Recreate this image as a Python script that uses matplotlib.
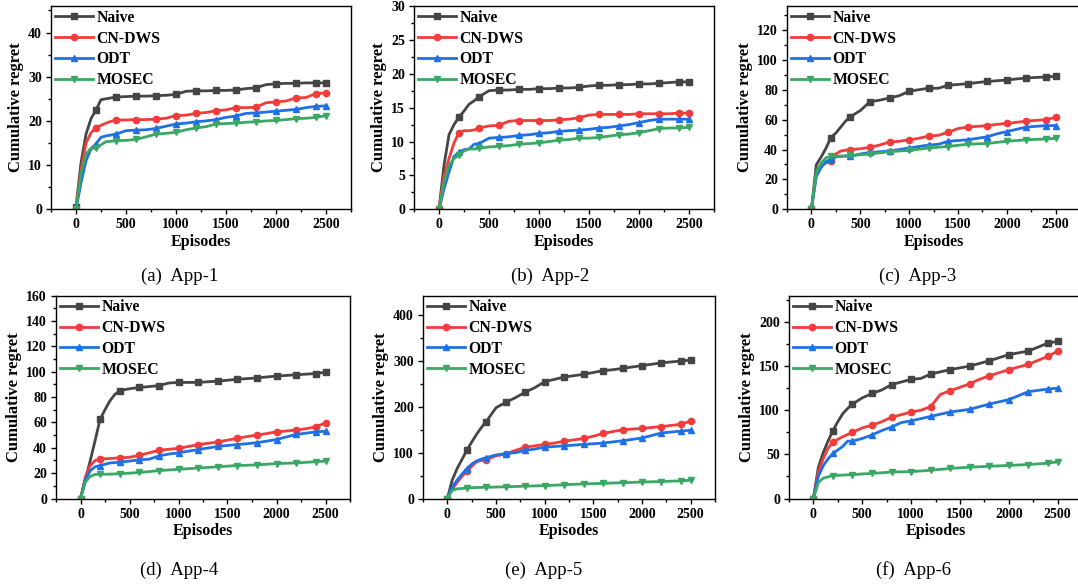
import matplotlib
matplotlib.use("Agg")
import matplotlib.pyplot as plt
from matplotlib.ticker import MultipleLocator, AutoMinorLocator

plt.rcParams["font.family"] = ["Liberation Serif", "DejaVu Serif"]
plt.rcParams["font.weight"] = "bold"

# episodes (x grid shared by every curve)
episodes = [0, 50, 100, 150, 200, 250, 300, 350, 400, 500, 600, 700, 800, 900, 1000,
            1100, 1200, 1300, 1400, 1500, 1600, 1700, 1800, 1900, 2000, 2100, 2200,
            2300, 2400, 2500]
marker_eps = [0, 200, 400, 600, 800, 1000, 1200, 1400, 1600, 1800, 2000, 2200, 2400, 2500]

methods = ["Naive", "CN-DWS", "ODT", "MOSEC"]
colors = ["#454545", "#f23b3b", "#1f6fe6", "#3aa864"]
markers = ["s", "o", "^", "v"]

# App-1
app1_naive = [0.5, 10.5, 17, 20.5, 22.5, 24.8, 25, 25.2, 25.4, 25.5, 25.6, 25.6, 25.7, 25.8, 26,
              26.7, 26.8, 26.8, 26.9, 26.9, 27, 27.3, 27.5, 28.2, 28.4, 28.5, 28.5, 28.6, 28.6, 28.6]
app1_cndws = [0, 9, 15, 17.3, 18.5, 19, 19.5, 19.9, 20.2, 20.2, 20.3, 20.3, 20.4, 20.6, 21.2,
              21.3, 21.7, 21.9, 22.3, 22.5, 23, 23, 23.1, 24.1, 24.3, 24.5, 25.2, 25.3, 26.2, 26.3]
app1_odt = [0, 6, 11, 13.7, 14.8, 16.3, 16.6, 16.8, 17, 17.8, 17.9, 18, 18.3, 18.8, 19.3,
            19.5, 19.8, 20, 20.3, 20.8, 21.1, 21.7, 21.8, 22, 22.2, 22.4, 22.6, 23, 23.3, 23.4]
app1_mosec = [0, 8, 12.5, 13.8, 13.8, 14.6, 15.3, 15.4, 15.5, 15.6, 15.8, 16.4, 17, 17.2, 17.4,
              18, 18.4, 18.7, 19.3, 19.4, 19.5, 19.7, 19.8, 20, 20.1, 20.3, 20.5, 20.6, 20.8, 21.2]

# App-2
app2_naive = [0, 6.5, 11, 12.5, 13.6, 14.5, 15.5, 16, 16.6, 17.5, 17.6, 17.6, 17.7, 17.7, 17.8,
              17.8, 17.9, 17.9, 18, 18.2, 18.3, 18.3, 18.4, 18.4, 18.5, 18.5, 18.6, 18.7, 18.8, 18.8]
app2_cndws = [0, 5, 7.5, 9.8, 11.3, 11.6, 11.6, 11.7, 12, 12.3, 12.4, 13, 13.1, 13.1, 13.1,
              13.1, 13.2, 13.3, 13.5, 13.9, 14, 14, 14, 14, 14.1, 14.1, 14.1, 14.1, 14.2, 14.2]
app2_odt = [0, 3, 5.5, 7.8, 8.4, 8.8, 8.9, 9.6, 9.7, 10.5, 10.6, 10.7, 10.9, 11, 11.2,
            11.3, 11.5, 11.6, 11.7, 11.8, 12, 12.1, 12.3, 12.5, 12.8, 13.1, 13.3, 13.3, 13.3, 13.3]
app2_mosec = [0, 4, 6.5, 7.5, 8, 8.6, 8.9, 8.9, 9, 9.2, 9.3, 9.4, 9.6, 9.7, 9.8,
              10, 10.2, 10.3, 10.5, 10.5, 10.6, 10.8, 11, 11.1, 11.3, 11.6, 11.9, 12, 12, 12.1]

# App-3
app3_naive = [0, 29.8, 35, 41, 48, 51, 55, 59, 62, 66, 72, 73, 74.5, 76, 79,
              80, 81, 81, 83, 83.5, 84, 84.8, 85.5, 86, 86.5, 87.2, 87.8, 88.2, 88.5, 89]
app3_cndws = [0, 24, 29, 31, 32, 37, 39, 39.5, 40, 40.5, 41.5, 43, 45, 45.5, 46.5,
              47.5, 49, 49.5, 51.5, 54, 55, 55.5, 56, 56.8, 57.5, 58.2, 59, 59.5, 60, 61.5]
app3_odt = [0, 22, 28, 32, 33.5, 35, 35.5, 35.5, 35.5, 37, 38, 38.5, 39, 40, 41,
            42, 43, 43.5, 45.5, 46, 46.5, 47.5, 48.5, 50.5, 52, 53.5, 55, 55.5, 56, 56]
app3_mosec = [0, 25, 31, 34.5, 35.5, 35.5, 35.5, 35.8, 36, 36.5, 37, 37.8, 38.5, 39, 39.5,
              40.2, 41, 41.5, 42, 42.8, 43.5, 43.8, 44, 44.8, 45.5, 46, 46.5, 46.8, 47, 47.5]

# App-4
app4_naive = [0, 15, 30, 46, 62.5, 70, 77, 82, 85, 86.5, 87.5, 88.2, 89, 91, 91.5,
              91.5, 91.5, 92, 92.5, 93.2, 94, 94.5, 95, 95.8, 96.5, 97, 97.5, 98, 98.5, 99.5]
app4_cndws = [0, 17, 26, 30, 31, 31.3, 31.5, 31.8, 32, 32.5, 34, 36, 38, 38.8, 39.5,
              41, 42.5, 43.5, 44.5, 46, 47.5, 48.8, 50, 51.2, 52.5, 53.2, 54, 55, 56.5, 59.5]
app4_odt = [0, 15, 22, 25, 26, 27, 28, 28.3, 28.5, 29.5, 30.5, 31, 33.5, 35, 36,
            37.3, 38.5, 39.8, 41, 41.8, 42.5, 43.2, 44, 45.2, 46.5, 48.5, 50.5, 51.5, 52.5, 53]
app4_mosec = [0, 13, 17.5, 19, 19, 19.1, 19.2, 19.4, 19.5, 20, 20.5, 21.2, 22, 22.5, 23,
              23.5, 24, 24.5, 25, 25.5, 26, 26.2, 26.5, 27, 27.5, 27.8, 28, 28.5, 29, 29.5]

# App-5
app5_naive = [0, 40, 65, 85, 105, 123, 140, 155, 168, 198, 210, 220, 232, 242, 255,
              260, 265, 268, 271, 275, 279, 281, 284, 287, 290, 293, 296, 298, 300, 302]
app5_cndws = [0, 20, 35, 48, 60, 70, 80, 83, 85, 93, 97, 105, 112, 115, 118,
              121, 125, 128, 131, 136, 142, 146, 150, 151.5, 153, 155, 157, 159.5, 162, 169]
app5_odt = [0, 25, 40, 53, 65, 75, 82, 86, 89, 95, 98, 100, 105, 108, 112,
            113.5, 115, 116.5, 118, 119.5, 121, 123.5, 126, 129, 132, 137.5, 143, 145, 147, 149]
app5_mosec = [0, 18, 21, 22, 23, 23.5, 24, 24.2, 24.5, 25, 25.5, 26.2, 27, 27.5, 28,
              29, 30, 31, 32, 32.5, 33, 33.8, 34.5, 35.2, 36, 36.5, 37, 37.8, 38.5, 40]

# App-6
app6_naive = [0, 35, 52, 65, 77, 87, 96, 102, 107, 114, 119, 123, 129, 132, 135,
              136, 141, 143.5, 146, 148, 150, 153, 156, 159.5, 163, 165, 167, 171.5, 176, 178]
app6_cndws = [0, 30, 45, 57, 64, 67, 70, 72.5, 75, 80, 83, 87, 92, 95, 98,
              100, 104, 118, 122, 126, 130, 135, 139, 142.5, 146, 149, 152, 156.5, 161, 167]
app6_odt = [0, 25, 37, 45, 51, 55, 59, 65, 65, 68, 72, 77, 81, 86, 88,
            90.5, 93, 95.5, 98, 99.5, 101, 104, 107, 109.5, 112, 116.5, 121, 122.5, 124, 125]
app6_mosec = [0, 18, 23, 24.5, 26, 26.3, 26.5, 26.8, 27, 27.8, 28.5, 29.2, 30, 30.2, 30.5,
              31.2, 32, 33, 34, 34.8, 35.5, 36, 36.5, 37, 37.5, 38, 38.5, 39.2, 40, 41.5]

captions = ["(a)  App-1", "(b)  App-2", "(c)  App-3", "(d)  App-4", "(e)  App-5", "(f)  App-6"]
all_data = [
    [app1_naive, app1_cndws, app1_odt, app1_mosec],
    [app2_naive, app2_cndws, app2_odt, app2_mosec],
    [app3_naive, app3_cndws, app3_odt, app3_mosec],
    [app4_naive, app4_cndws, app4_odt, app4_mosec],
    [app5_naive, app5_cndws, app5_odt, app5_mosec],
    [app6_naive, app6_cndws, app6_odt, app6_mosec],
]
y_tops = [46, 30, 136, 160, 443, 230]
y_steps = [10, 5, 20, 20, 100, 50]

W, H = 1078, 584
# axes boxes in pixels: left, right, top, bottom
boxes = [
    (51, 351, 6, 209.3), (414, 714, 6, 209.3), (787, 1080, 6, 209.3),
    (56, 350, 295.5, 498.5), (423, 715, 295.5, 498.5), (789, 1082, 295.5, 498.5),
]
# caption centre x and baseline y (pixels)
cap_pos = [(180, 281), (550, 281), (918, 281), (179, 575), (544, 575), (913, 575)]

mark_idx = [episodes.index(e) for e in marker_eps]

fig = plt.figure(figsize=(W / 100, H / 100), dpi=100)

for k in range(6):
    l, r, t, b = boxes[k]
    ax = fig.add_axes([l / W, 1 - b / H, (r - l) / W, (b - t) / H])
    for series, name, c, m in zip(all_data[k], methods, colors, markers):
        ax.plot(episodes, series, color=c, lw=2.0, marker=m, ms=4.5,
                markevery=mark_idx, label=name)
    ax.set_xlim(-250, 2750)
    ax.set_ylim(0, y_tops[k])
    ax.xaxis.set_major_locator(MultipleLocator(500))
    ax.xaxis.set_minor_locator(AutoMinorLocator(2))
    ax.yaxis.set_major_locator(MultipleLocator(y_steps[k]))
    ax.yaxis.set_minor_locator(AutoMinorLocator(2))
    ax.tick_params(which="major", direction="out", length=3.5, width=1, labelsize=10, pad=3)
    ax.tick_params(which="minor", direction="out", length=2, width=1)
    for lab in ax.get_xticklabels() + ax.get_yticklabels():
        lab.set_fontweight("bold")
    for sp in ax.spines.values():
        sp.set_linewidth(1)
    ax.set_xlabel("Episodes", fontsize=11.5, fontweight="bold", labelpad=2)
    ax.set_ylabel("Cumulative regret", fontsize=12, fontweight="bold", labelpad=3)
    ax.legend(loc="upper left", frameon=False, handlelength=2.4,
              handletextpad=0.25, labelspacing=0.3, borderaxespad=0.0,
              borderpad=0.25, numpoints=1, prop={"weight": "bold", "size": 11.3})
    fig.text(cap_pos[k][0] / W, 1 - cap_pos[k][1] / H, captions[k], ha="center",
             va="baseline", fontsize=13.5, fontweight="normal")

fig.savefig("out.png", dpi=100)
